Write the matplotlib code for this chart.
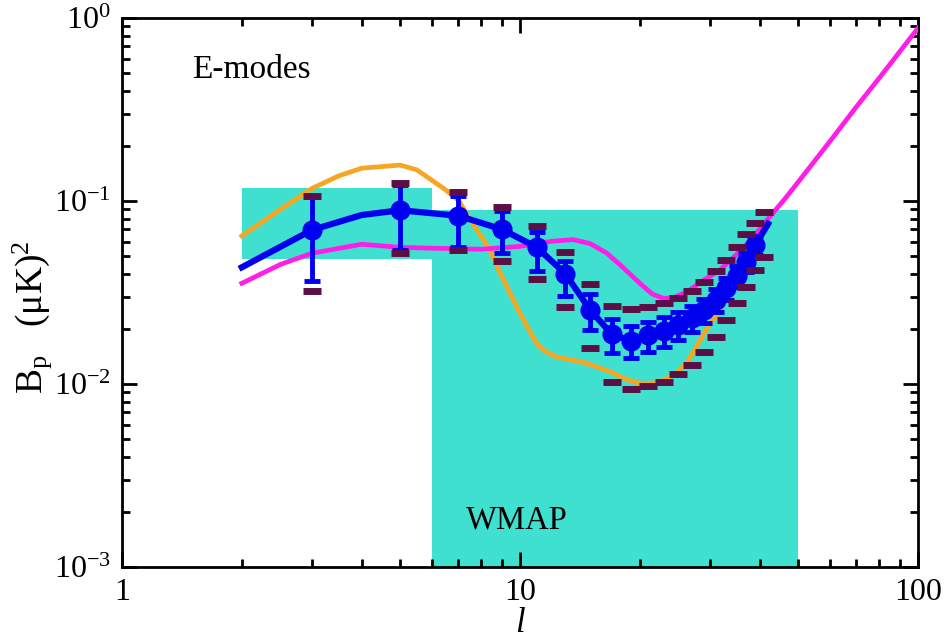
import matplotlib
matplotlib.use('Agg')
import matplotlib.pyplot as plt
from matplotlib.ticker import LogLocator, NullFormatter, FixedLocator, FixedFormatter

plt.rcParams['font.family'] = ['Liberation Serif', 'DejaVu Serif']
plt.rcParams['mathtext.fontset'] = 'custom'
plt.rcParams['mathtext.rm'] = 'Liberation Serif'
plt.rcParams['mathtext.it'] = 'Liberation Serif:italic'

# WMAP allowed boxes: (l_min, l_max, B_low, B_high)
wmap_box1 = (2, 6, 0.048, 0.118)
wmap_box2 = (6, 50, 1e-3, 0.089)

# model curves
orange_l = [2, 2.5, 3, 3.5, 4, 5, 5.5, 6, 6.5, 7, 7.6, 8.4, 9, 10, 10.5, 11, 11.5, 12.3, 14.7, 16.8,
            18.5, 20, 21.5, 22.9, 24.5, 26.2, 28, 29.3, 31.8, 35, 39]
orange_y = [0.0644, 0.09, 0.117, 0.137, 0.151, 0.157, 0.148, 0.130, 0.115, 0.101, 0.0755, 0.054, 0.0386,
            0.0243, 0.020, 0.0167, 0.0152, 0.0141, 0.013, 0.0117, 0.0106, 0.0101, 0.0101, 0.0105, 0.0113,
            0.013, 0.0165, 0.0197, 0.0253, 0.039, 0.0575]

magenta_l = [2, 2.5, 3, 4, 5, 6, 8, 10, 12, 13.6, 15, 16.5, 18, 20, 21.5, 23, 24.5, 26.2, 29, 31.8,
             35, 38.6, 42, 46, 50, 60, 70, 80, 90, 100]
magenta_y = [0.0355, 0.045, 0.0518, 0.058, 0.0558, 0.0552, 0.0545, 0.0565, 0.0602, 0.0615, 0.0585,
             0.052, 0.044, 0.0355, 0.031, 0.0293, 0.0298, 0.0318, 0.037, 0.042, 0.051, 0.0636, 0.08,
             0.101, 0.127, 0.211, 0.327, 0.471, 0.655, 0.88]

blue_curve_l = [2, 3, 4, 5, 7, 9, 11, 13, 15, 17, 19, 21, 23, 25, 27, 29, 31, 33, 35, 37, 39, 42]
blue_curve_y = [0.0434, 0.0694, 0.0838, 0.089, 0.083, 0.070, 0.056, 0.040, 0.0254, 0.0187, 0.0172, 0.0185,
                0.0196, 0.021, 0.0229, 0.0254, 0.0288, 0.0333, 0.0389, 0.0466, 0.0575, 0.075]

# binned data points with errors
pts_l = [3, 5, 7, 9, 11, 13, 15, 17, 19, 21, 23, 25, 27, 29, 31, 33, 35, 37, 39]
pts_y = [0.0694, 0.089, 0.083, 0.070, 0.056, 0.040, 0.0254, 0.0187, 0.0172, 0.0185,
         0.0196, 0.021, 0.0229, 0.0254, 0.0288, 0.0333, 0.0389, 0.0466, 0.0575]
pts_hi = [0.106, 0.122, 0.106, 0.0885, 0.068, 0.047, 0.031, 0.0226, 0.0208, 0.0219,
          0.0231, 0.0246, 0.0266, 0.0293, 0.033, 0.038, 0.044, 0.052, 0.064]
pts_lo = [0.0365, 0.054, 0.0559, 0.0518, 0.0416, 0.0303, 0.0197, 0.0147, 0.0138, 0.015,
          0.016, 0.0174, 0.0192, 0.0215, 0.0247, 0.0288, 0.0339, 0.041, 0.0508]

# outer bounds (dark dashes)
bnd_l = [3, 5, 7, 9, 11, 13, 15, 17, 19, 21, 23, 25, 27, 29, 31, 33, 35, 37, 39, 41]
bnd_hi = [0.106, 0.125, 0.112, 0.093, 0.0733, 0.0524, 0.035, 0.0267, 0.0257, 0.0265,
          0.0276, 0.0294, 0.0324, 0.0362, 0.0414, 0.0476, 0.0558, 0.0658, 0.0755, 0.0874]
bnd_lo = [0.0324, 0.052, 0.054, 0.0472, 0.0375, 0.0262, 0.0158, 0.0103, 0.00935, 0.00975,
          0.0103, 0.0113, 0.0127, 0.0149, 0.0181, 0.0224, 0.0276, 0.034, 0.042, 0.0496]

x_ticks = [1, 10, 100]
x_ticklabels = ['1', '10', '100']

teal = '#40E0D0'
fig = plt.figure(figsize=(9.48, 6.4), dpi=100)
ax = fig.add_axes([0.1287, 0.114, 0.8397, 0.858])

for box in (wmap_box1, wmap_box2):
    ax.fill_between([box[0], box[1]], box[2], box[3], color=teal, lw=0, zorder=1)

ax.plot(orange_l, orange_y, color='#F5A623', lw=3.4, zorder=2)
ax.plot(magenta_l, magenta_y, color='#FF1EE6', lw=3.4, zorder=3)
ax.plot(blue_curve_l, blue_curve_y, color='#0000F0', lw=4.5, zorder=4)

yerr = [[y - lo for y, lo in zip(pts_y, pts_lo)], [hi - y for y, hi in zip(pts_y, pts_hi)]]
ax.errorbar(pts_l, pts_y, yerr=yerr, fmt='o', color='#0000F0', ms=13.5, elinewidth=3.5,
            capsize=6, capthick=3.5, zorder=5)

ax.plot(bnd_l, bnd_hi, ls='none', marker='_', ms=13, mew=5, color='#5C0F45', zorder=6)
ax.plot(bnd_l, bnd_lo, ls='none', marker='_', ms=13, mew=5, color='#5C0F45', zorder=6)

ax.set_xscale('log')
ax.set_yscale('log')
ax.set_xlim(1, 100)
ax.set_ylim(1e-3, 1)

ax.xaxis.set_major_locator(FixedLocator(x_ticks))
ax.xaxis.set_major_formatter(FixedFormatter(x_ticklabels))
ax.xaxis.set_minor_locator(LogLocator(base=10, subs=range(2, 10), numticks=10))
ax.xaxis.set_minor_formatter(NullFormatter())
ax.yaxis.set_major_locator(LogLocator(base=10, numticks=10))
ax.yaxis.set_minor_locator(LogLocator(base=10, subs=range(2, 10), numticks=10))
ax.yaxis.set_minor_formatter(NullFormatter())
ax.tick_params(which='both', direction='in', top=True, right=True, width=2, labelsize=23)
ax.tick_params(which='major', length=11, pad=8)
ax.tick_params(which='minor', length=6)
for s in ax.spines.values():
    s.set_linewidth(2)

ax.set_xlabel(r'$\mathit{l}$', fontsize=25, labelpad=0)
ax.set_ylabel(r'B$_{\mathrm{p}}$   ($\mathrm{\mu}$K)$^2$', fontsize=27)
ax.yaxis.set_label_coords(-0.086, 0.455)

ax.text(1.5, 0.52, 'E-modes', fontsize=24, va='center', ha='left')
ax.text(7.3, 0.0018, 'WMAP', fontsize=23.5, va='center', ha='left')

fig.savefig('out.png', dpi=100)
